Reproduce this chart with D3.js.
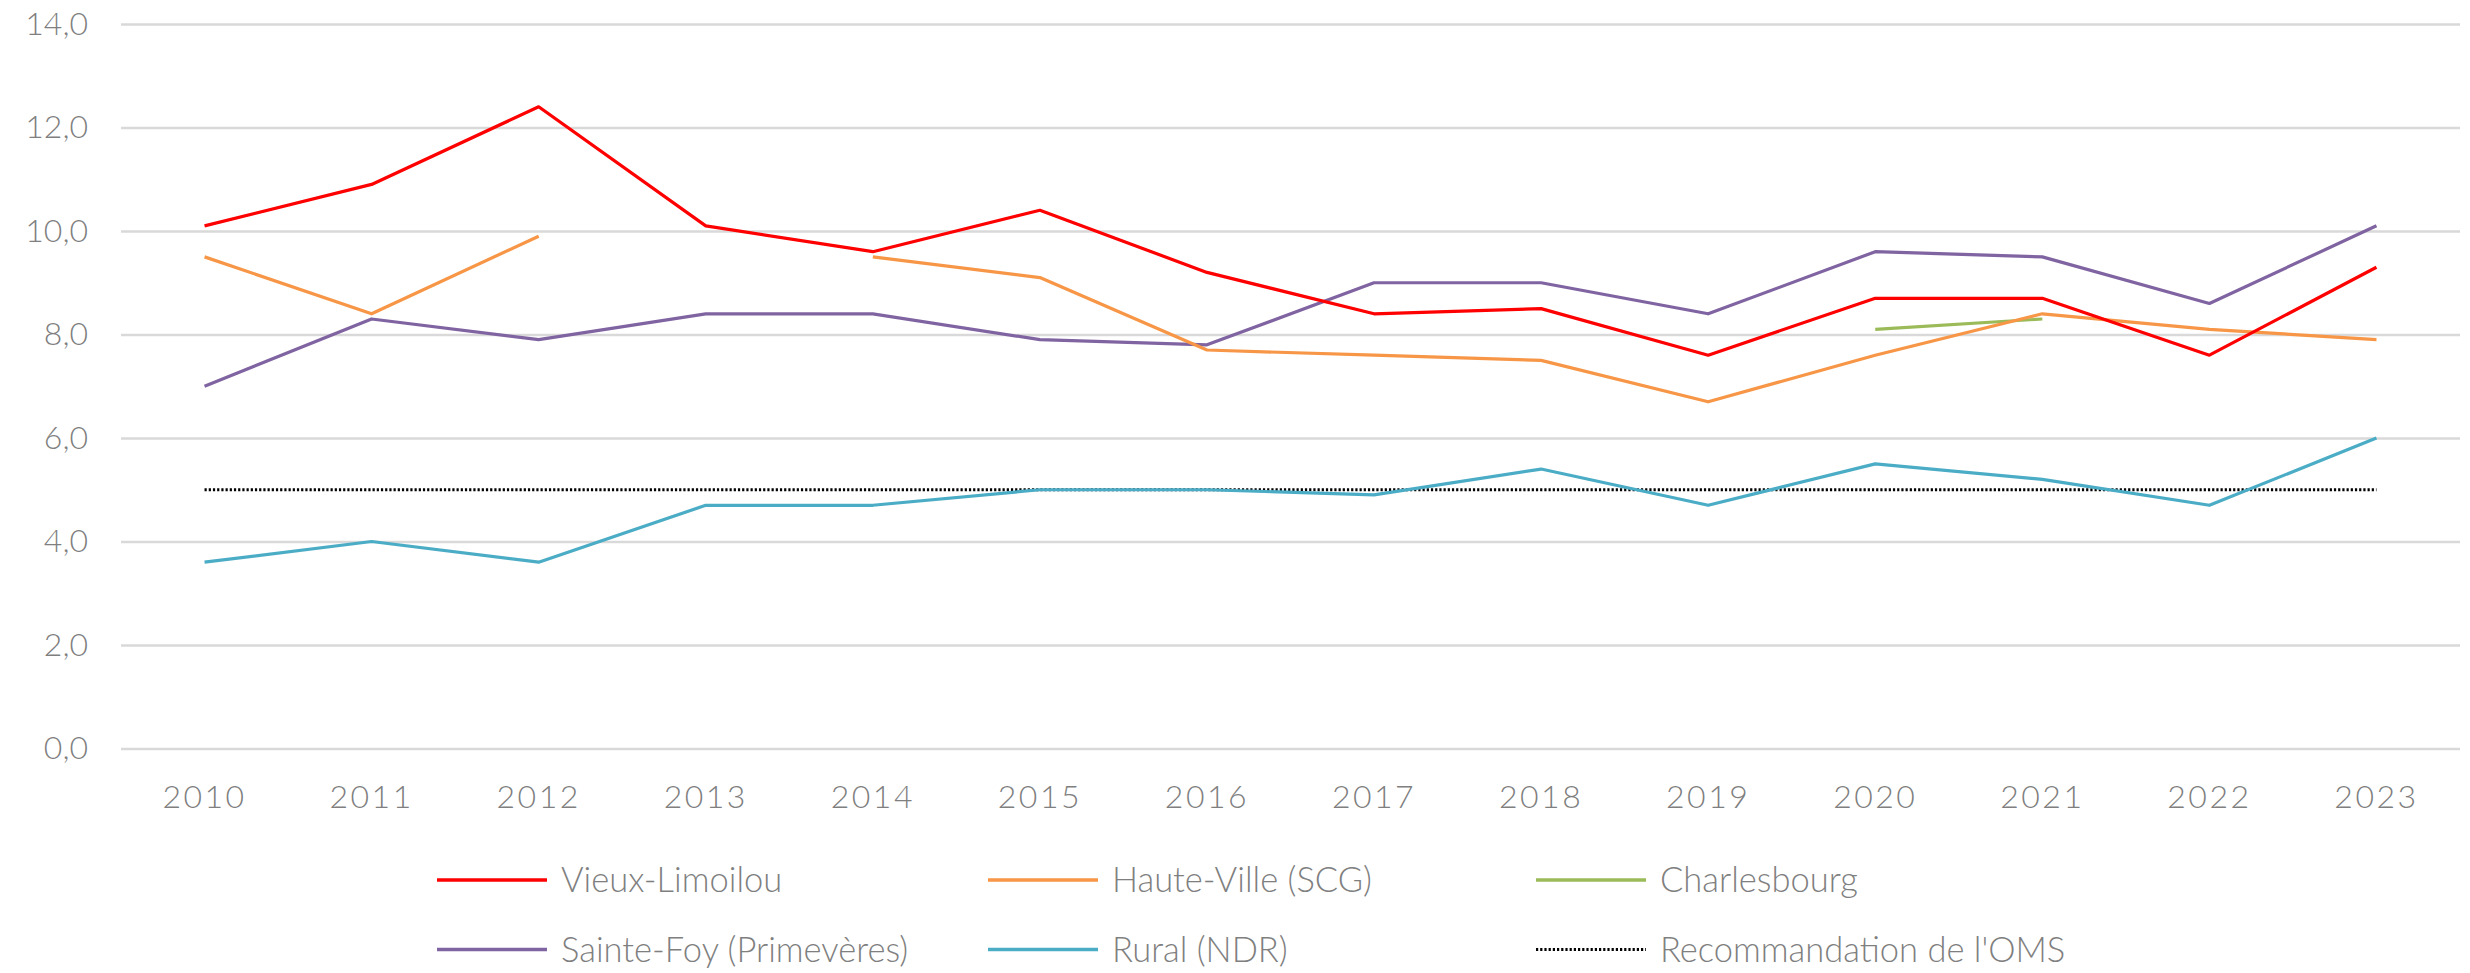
<!DOCTYPE html>
<html>
<head>
<meta charset="utf-8">
<script src="https://cdn.jsdelivr.net/npm/d3@7"></script>
<style>
  html, body { margin: 0; padding: 0; background: #fff; }
  svg { display: block; }
  text { font-family: "Lato", "Open Sans", sans-serif; font-weight: 300; fill: #7f7f7f; }
</style>
</head>
<body>
<svg id="chart" width="2470" height="973"></svg>
<script>
const years = ["2010","2011","2012","2013","2014","2015","2016","2017","2018","2019","2020","2021","2022","2023"];
const vieuxLimoilou = [10.1, 10.9, 12.4, 10.1, 9.6, 10.4, 9.2, 8.4, 8.5, 7.6, 8.7, 8.7, 7.6, 9.3];
const hauteVille    = [9.5, 8.4, 9.9, null, 9.5, 9.1, 7.7, 7.6, 7.5, 6.7, 7.6, 8.4, 8.1, 7.9];
const charlesbourg  = [null, null, null, null, null, null, null, null, null, null, 8.1, 8.3, null, null];
const sainteFoy     = [7.0, 8.3, 7.9, 8.4, 8.4, 7.9, 7.8, 9.0, 9.0, 8.4, 9.6, 9.5, 8.6, 10.1];
const rural         = [3.6, 4.0, 3.6, 4.7, 4.7, 5.0, 5.0, 4.9, 5.4, 4.7, 5.5, 5.2, 4.7, 6.0];
const oms           = [5, 5, 5, 5, 5, 5, 5, 5, 5, 5, 5, 5, 5, 5];
const yTicks = [0, 2, 4, 6, 8, 10, 12, 14];

const seriesNames = ["Vieux-Limoilou", "Haute-Ville (SCG)", "Charlesbourg", "Sainte-Foy (Primevères)", "Rural (NDR)", "Recommandation de l'OMS"];
const seriesColors = ["#FF0000", "#F79646", "#9BBB59", "#8064A2", "#4BACC6", "#000000"];

const series = [
  { name: seriesNames[0], values: vieuxLimoilou, color: seriesColors[0], dash: null },
  { name: seriesNames[1], values: hauteVille, color: seriesColors[1], dash: null },
  { name: seriesNames[2], values: charlesbourg, color: seriesColors[2], dash: null },
  { name: seriesNames[3], values: sainteFoy, color: seriesColors[3], dash: null },
  { name: seriesNames[4], values: rural, color: seriesColors[4], dash: null },
  { name: seriesNames[5], values: oms, color: seriesColors[5], dash: "2.2,2" }
];

const svg = d3.select("#chart");
const plotLeft = 121, plotRight = 2460;
const y0 = 748.5, y14 = 24;

const x = d3.scaleBand().domain(years).range([plotLeft, plotRight]);
const y = d3.scaleLinear().domain([0, 14]).range([y0, y14]);
const fmt = v => d3.format(".1f")(v).replace(".", ",");

// gridlines + y labels
const yAxis = d3.axisLeft(y).tickValues(yTicks).tickSize(-(plotRight - plotLeft)).tickFormat(fmt).tickPadding(33);
const gy = svg.append("g").attr("transform", `translate(${plotLeft},0)`).call(yAxis);
gy.select(".domain").remove();
gy.selectAll(".tick line").attr("stroke", "#d9d9d9").attr("stroke-width", 2.5);
gy.selectAll(".tick text").attr("font-size", 32).attr("fill", "#7f7f7f").attr("font-family", "Lato, 'Open Sans', sans-serif").attr("font-weight", 300);

// x axis
const xAxis = d3.axisBottom(x).tickSize(0).tickPadding(37);
const gx = svg.append("g").attr("transform", `translate(0,${y0})`).call(xAxis);
gx.select(".domain").remove();
gx.selectAll(".tick text").attr("font-size", 32).attr("fill", "#7f7f7f").attr("letter-spacing", 2.5)
  .attr("font-family", "Lato, 'Open Sans', sans-serif").attr("font-weight", 300);

const line = d3.line()
  .defined(d => d.v !== null)
  .x(d => x(d.year) + x.bandwidth() / 2)
  .y(d => y(d.v));

const lineOrder = [5, 4, 3, 2, 1, 0];
lineOrder.forEach(i => {
  const s = series[i];
  svg.append("path")
    .datum(years.map((yr, j) => ({ year: yr, v: s.values[j] })))
    .attr("fill", "none")
    .attr("stroke", s.color)
    .attr("stroke-width", s.dash ? 3 : 3.2)
    .attr("stroke-dasharray", s.dash)
    .attr("stroke-linejoin", "round")
    .attr("d", line);
});

// legend
const legCols = [437, 988, 1536];
const legRows = [880, 949.5];
series.forEach((s, i) => {
  const lx = legCols[i % 3], ly = legRows[Math.floor(i / 3)];
  const g = svg.append("g").attr("transform", `translate(${lx},${ly})`);
  g.append("line").attr("x1", 0).attr("x2", 110).attr("y1", 0).attr("y2", 0)
    .attr("stroke", s.color).attr("stroke-width", s.dash ? 3 : 3.5)
    .attr("stroke-dasharray", s.dash);
  g.append("text").attr("x", 124).attr("y", 12)
    .attr("font-size", 34.5).text(s.name);
});
</script>
</body>
</html>
